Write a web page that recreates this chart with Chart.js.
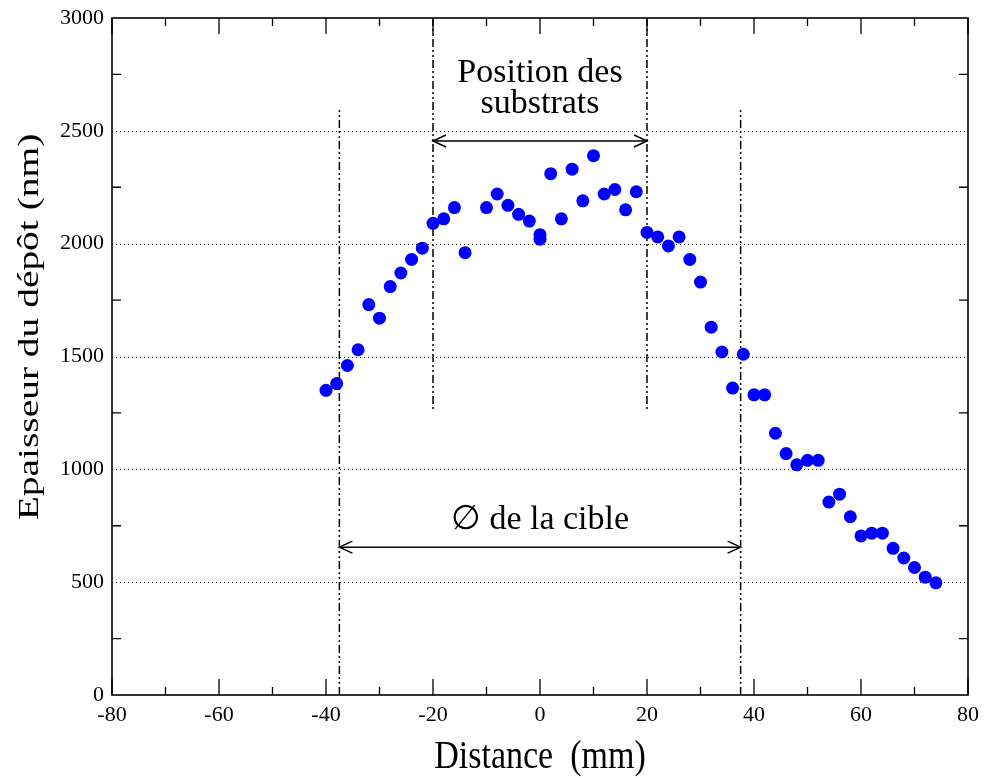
<!DOCTYPE html>
<html>
<head>
<meta charset="utf-8">
<script src="https://cdn.jsdelivr.net/npm/chart.js@4"></script>
<style>
  html, body { margin: 0; padding: 0; background: #fff; }
  #wrap { width: 984px; height: 778px; position: relative; }
</style>
</head>
<body>
<div id="wrap"><canvas id="c"></canvas></div>
<script>
// ---- Data ----
const distanceMm = [-40,-38,-36,-34,-32,-30,-28,-26,-24,-22,-20,-18,-16,-14,-10,-8,-6,-4,-2,0,0,2,4,6,8,10,12,14,16,18,20,22,24,26,28,30,32,34,36,38,40,42,44,46,48,50,52,54,56,58,60,62,64,66,68,70,72,74];
const thicknessNm = [1350,1380,1460,1530,1730,1670,1810,1870,1930,1980,2090,2110,2160,1960,2160,2220,2170,2130,2100,2040,2020,2310,2110,2330,2190,2390,2220,2240,2150,2230,2050,2030,1990,2030,1930,1830,1630,1520,1360,1510,1330,1330,1160,1070,1020,1040,1040,855,890,790,705,717,717,650,607,565,522,497];

const xTicks = [-80,-60,-40,-20,0,20,40,60,80];
const yTicks = [0,500,1000,1500,2000,2500,3000];
const yGridValues = [500,1000,1500,2000,2500];

// annotation lines: x positions and y ranges
const targetLinesX = [-37.5, 37.5];
const targetLineRange = [0, 2600];
const substrateLinesX = [-20, 20];
const substrateLineRange = [1260, 3000];
// arrows: [xFrom, xTo, y]
const substrateArrow = [-20, 20, 2455];
const targetArrow = [-37.5, 37.5, 655];
// labels: [text, x, y]
const annotationLabels = [
  ['Position des', 0, 2717],
  ['substrats', 0, 2580],
  ['\u2205 de la cible', 0, 735]
];
const xTitle = 'Distance  (mm)';
const yTitle = 'Epaisseur du dépôt (nm)';

const SERIF = '"Liberation Serif", "DejaVu Serif", serif';

function arrowHead(ctx, x, y, dir) {
  const L = 13, H = 6;
  ctx.beginPath();
  ctx.moveTo(x - dir * L, y - H);
  ctx.lineTo(x, y);
  ctx.lineTo(x - dir * L, y + H);
  ctx.stroke();
}

const decor = {
  id: 'decor',
  beforeDatasetsDraw(chart) {
    const {ctx, chartArea: a, scales: {x, y}} = chart;
    ctx.save();
    ctx.strokeStyle = '#000';
    ctx.lineWidth = 1;
    ctx.setLineDash([1, 3]);
    yGridValues.forEach(v => {
      const py = Math.round(y.getPixelForValue(v)) + 0.5;
      ctx.beginPath(); ctx.moveTo(a.left, py); ctx.lineTo(a.right, py); ctx.stroke();
    });
    ctx.lineWidth = 1.5;
    ctx.setLineDash([8, 3, 2, 3, 2, 3]);
    targetLinesX.forEach(v => {
      const px = x.getPixelForValue(v);
      ctx.beginPath();
      ctx.moveTo(px, y.getPixelForValue(targetLineRange[0]));
      ctx.lineTo(px, y.getPixelForValue(targetLineRange[1]));
      ctx.stroke();
    });
    substrateLinesX.forEach(v => {
      const px = x.getPixelForValue(v);
      ctx.beginPath();
      ctx.moveTo(px, y.getPixelForValue(substrateLineRange[1]));
      ctx.lineTo(px, y.getPixelForValue(substrateLineRange[0]));
      ctx.stroke();
    });
    ctx.setLineDash([]);
    ctx.lineWidth = 1.5;
    [substrateArrow, targetArrow].forEach(([x0, x1, yv]) => {
      const p0 = x.getPixelForValue(x0), p1 = x.getPixelForValue(x1), py = y.getPixelForValue(yv);
      ctx.beginPath(); ctx.moveTo(p0, py); ctx.lineTo(p1, py); ctx.stroke();
      arrowHead(ctx, p0, py, -1);
      arrowHead(ctx, p1, py, 1);
    });
    ctx.fillStyle = '#000';
    ctx.font = '34px ' + SERIF;
    ctx.textAlign = 'center';
    ctx.textBaseline = 'alphabetic';
    annotationLabels.forEach(([t, xv, yv]) => {
      ctx.fillText(t, x.getPixelForValue(xv), y.getPixelForValue(yv));
    });
    ctx.restore();
  },
  afterDraw(chart) {
    const {ctx, chartArea: a, scales: {x, y}} = chart;
    ctx.save();
    ctx.strokeStyle = '#000';
    ctx.setLineDash([]);
    ctx.lineWidth = 1.3;
    for (let v = -80; v <= 80; v += 10) {
      const px = x.getPixelForValue(v);
      const len = (v % 20 === 0) ? 16 : 8;
      ctx.beginPath();
      ctx.moveTo(px, a.bottom); ctx.lineTo(px, a.bottom - len);
      ctx.moveTo(px, a.top); ctx.lineTo(px, a.top + len);
      ctx.stroke();
    }
    for (let v = 250; v < 3000; v += 500) {
      const py = y.getPixelForValue(v);
      ctx.beginPath();
      ctx.moveTo(a.left, py); ctx.lineTo(a.left + 9, py);
      ctx.moveTo(a.right, py); ctx.lineTo(a.right - 9, py);
      ctx.stroke();
    }
    ctx.lineWidth = 1.6;
    ctx.strokeRect(a.left, a.top, a.right - a.left, a.bottom - a.top);
    ctx.fillStyle = '#000';
    ctx.font = '34px ' + SERIF;
    ctx.textAlign = 'center';
    ctx.textBaseline = 'alphabetic';
    ctx.save();
    ctx.translate((a.left + a.right) / 2, 768);
    ctx.scale(1, 1.18);
    ctx.fillText(xTitle, 0, 0);
    ctx.restore();
    ctx.save();
    ctx.font = '29px ' + SERIF;
    ctx.translate(30, 327);
    ctx.rotate(-Math.PI / 2);
    ctx.scale(1.36, 1);
    ctx.textBaseline = 'middle';
    ctx.fillText(yTitle, 0, 0);
    ctx.restore();
    ctx.restore();
  }
};

new Chart(document.getElementById('c'), {
  type: 'scatter',
  data: {
    datasets: [{
      data: distanceMm.map((d, i) => ({x: d, y: thicknessNm[i]})),
      backgroundColor: '#0000ff',
      borderWidth: 0,
      pointRadius: 6.5,
      pointHoverRadius: 6.5
    }]
  },
  options: {
    responsive: true,
    maintainAspectRatio: false,
    animation: false,
    events: [],
    layout: { padding: { top: 18, right: 16, left: 0, bottom: 0 } },
    plugins: { legend: { display: false }, tooltip: { enabled: false } },
    scales: {
      x: {
        type: 'linear', min: -80, max: 80,
        afterBuildTicks: s => { s.ticks = xTicks.map(v => ({value: v})); },
        afterFit: s => { s.height = 83; s.paddingLeft = 0; s.paddingRight = 0; },
        grid: { display: false, drawTicks: false },
        border: { display: false },
        ticks: { color: '#000', font: { family: SERIF, size: 22 }, padding: 7, maxRotation: 0,
                 callback: v => String(v) }
      },
      y: {
        type: 'linear', min: 0, max: 3000,
        afterBuildTicks: s => { s.ticks = yTicks.map(v => ({value: v})); },
        afterFit: s => { s.width = 112; s.paddingTop = 0; s.paddingBottom = 0; },
        grid: { display: false, drawTicks: false },
        border: { display: false },
        ticks: { color: '#000', font: { family: SERIF, size: 22 }, padding: 8,
                 callback: v => String(v) }
      }
    }
  },
  plugins: [decor]
});
</script>
</body>
</html>
